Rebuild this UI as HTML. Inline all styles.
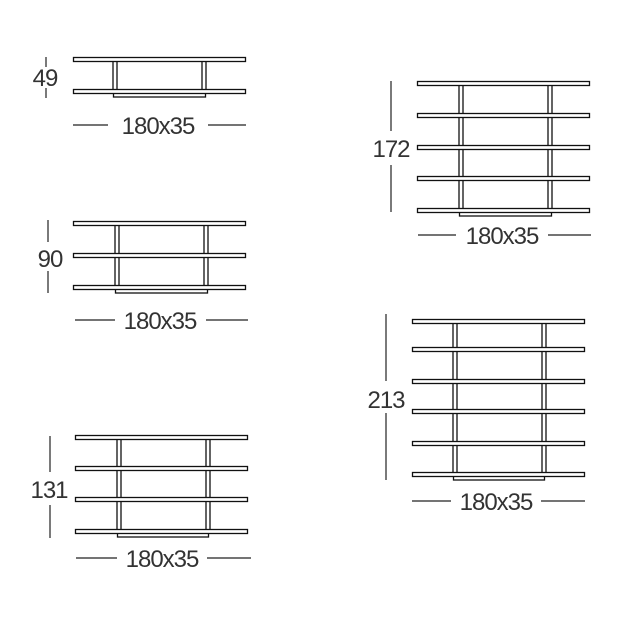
<!DOCTYPE html>
<html><head><meta charset="utf-8"><style>
html,body{margin:0;padding:0;background:#fff;}
svg{display:block}
text{font-family:"Liberation Sans",sans-serif;font-size:24px;fill:#333;letter-spacing:-1px}
</style></head><body>
<svg width="631" height="620" viewBox="0 0 631 620" xmlns="http://www.w3.org/2000/svg">
<g fill="#fff" stroke="#111" stroke-width="1.3">
<rect x="113" y="60" width="4" height="30"/><rect x="202" y="60" width="4" height="30"/>
<rect x="113.5" y="93" width="92" height="4"/>
<rect x="73.5" y="57.5" width="172" height="4"/>
<rect x="73.5" y="89.5" width="172" height="4"/>
<rect x="115" y="224" width="4" height="65"/><rect x="204" y="224" width="4" height="65"/>
<rect x="115.5" y="289" width="92" height="4"/>
<rect x="73.5" y="221.5" width="172" height="4"/>
<rect x="73.5" y="253.5" width="172" height="4"/>
<rect x="73.5" y="285.5" width="172" height="4"/>
<rect x="117" y="438" width="4" height="93"/><rect x="206" y="438" width="4" height="93"/>
<rect x="117.5" y="533" width="91" height="4"/>
<rect x="75.5" y="435.5" width="172" height="4"/>
<rect x="75.5" y="466.5" width="172" height="4"/>
<rect x="75.5" y="497.5" width="172" height="4"/>
<rect x="75.5" y="529.5" width="172" height="4"/>
<rect x="459" y="84" width="4" height="126"/><rect x="548" y="84" width="4" height="126"/>
<rect x="459.5" y="212" width="92" height="4"/>
<rect x="417.5" y="81.5" width="172" height="4"/>
<rect x="417.5" y="113.5" width="172" height="4"/>
<rect x="417.5" y="145.5" width="172" height="4"/>
<rect x="417.5" y="176.5" width="172" height="4"/>
<rect x="417.5" y="208.5" width="172" height="4"/>
<rect x="453" y="322" width="4" height="152"/><rect x="542" y="322" width="4" height="152"/>
<rect x="453.5" y="476" width="91" height="4"/>
<rect x="412.5" y="319.5" width="172" height="4"/>
<rect x="412.5" y="347.5" width="172" height="4"/>
<rect x="412.5" y="379.5" width="172" height="4"/>
<rect x="412.5" y="409.5" width="172" height="4"/>
<rect x="412.5" y="441.5" width="172" height="4"/>
<rect x="412.5" y="472.5" width="172" height="4"/>
</g>
<g stroke="#222" stroke-width="1.2">
<line x1="46" y1="57" x2="46" y2="67"/><line x1="46" y1="88" x2="46" y2="98"/>
<line x1="73" y1="125" x2="108" y2="125"/><line x1="208" y1="125" x2="246" y2="125"/>
<line x1="48" y1="220" x2="48" y2="242"/><line x1="48" y1="271" x2="48" y2="293"/>
<line x1="75" y1="320" x2="115" y2="320"/><line x1="206" y1="320" x2="248" y2="320"/>
<line x1="50" y1="436" x2="50" y2="472"/><line x1="50" y1="505" x2="50" y2="538"/>
<line x1="76" y1="558" x2="117" y2="558"/><line x1="207" y1="558" x2="251" y2="558"/>
<line x1="391" y1="81" x2="391" y2="131"/><line x1="391" y1="165" x2="391" y2="212"/>
<line x1="418" y1="235" x2="456" y2="235"/><line x1="548" y1="235" x2="591" y2="235"/>
<line x1="386" y1="314" x2="386" y2="381"/><line x1="386" y1="413" x2="386" y2="480"/>
<line x1="412" y1="501" x2="451" y2="501"/><line x1="541" y1="501" x2="585" y2="501"/>
</g>
<g text-anchor="middle">
<text x="45" y="86">49</text>
<text x="158" y="134">180x35</text>
<text x="50" y="267">90</text>
<text x="160" y="329">180x35</text>
<text x="49" y="498">131</text>
<text x="162" y="567">180x35</text>
<text x="391" y="157">172</text>
<text x="502" y="244">180x35</text>
<text x="386" y="408">213</text>
<text x="496" y="510">180x35</text>
</g>
</svg>
</body></html>
